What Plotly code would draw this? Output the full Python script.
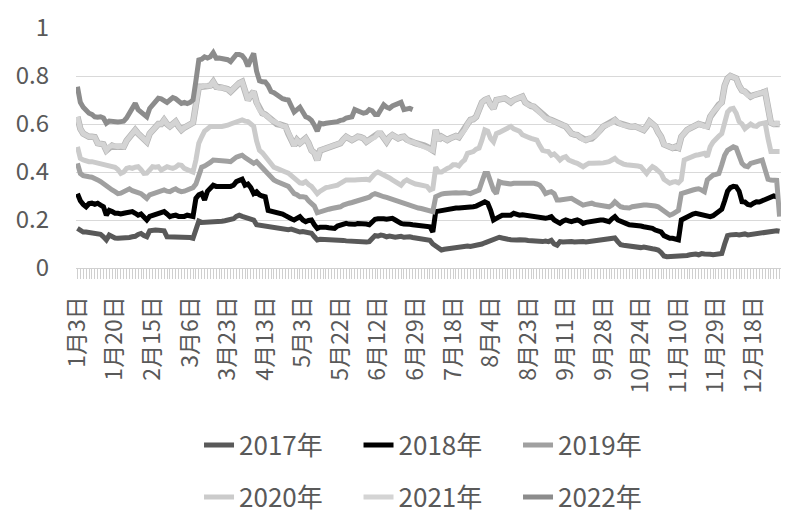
import pandas as pd
import plotly.graph_objects as go

# ---- categories: 2017 trading days (China), labelled "M月D日" ----
YEAR = 2017
HOLIDAYS = ["2017-01-02", "2017-01-27", "2017-01-30", "2017-01-31", "2017-02-01",
            "2017-02-02", "2017-04-03", "2017-04-04", "2017-05-01", "2017-05-29",
            "2017-05-30", "2017-10-02", "2017-10-03", "2017-10-04", "2017-10-05",
            "2017-10-06"]
_days = pd.bdate_range(f"{YEAR}-01-01", f"{YEAR}-12-31")
_days = _days[~_days.isin(pd.to_datetime(HOLIDAYS))]
CATEGORIES = [f"{d.month}月{d.day}日" for d in _days]
LABEL_STEP = 13
TICK_LABELS = [c if i % LABEL_STEP == 0 else "" for i, c in enumerate(CATEGORIES)]

# ---- series values ----
S2017 = [
    0.165, 0.155, 0.15, 0.15, 0.148, 0.15, 0.145, 0.143, 0.14, 0.13, 0.117, 0.137, 0.13,
    0.125, 0.124, 0.124, 0.125, 0.124, 0.127, 0.13, 0.132, 0.14, 0.144, 0.135, 0.13, 0.155,
    0.158, 0.158, 0.157, 0.158, 0.155, 0.13, 0.13, 0.132, 0.13, 0.132, 0.13, 0.128, 0.13,
    0.127, 0.124, 0.16, 0.195, 0.19, 0.19, 0.19, 0.19, 0.192, 0.193, 0.195, 0.195, 0.197,
    0.2, 0.2, 0.205, 0.215, 0.22, 0.215, 0.212, 0.21, 0.208, 0.2, 0.18, 0.178, 0.178,
    0.175, 0.172, 0.17, 0.168, 0.17, 0.165, 0.165, 0.162, 0.16, 0.162, 0.158, 0.155, 0.15,
    0.152, 0.15, 0.148, 0.145, 0.13, 0.117, 0.12, 0.12, 0.118, 0.12, 0.12, 0.118, 0.115,
    0.117, 0.115, 0.113, 0.112, 0.11, 0.108, 0.11, 0.108, 0.107, 0.108, 0.11, 0.125, 0.135,
    0.133, 0.137, 0.135, 0.13, 0.133, 0.13, 0.128, 0.13, 0.132, 0.128, 0.13, 0.13, 0.127,
    0.125, 0.122, 0.12, 0.12, 0.118, 0.115, 0.1, 0.09, 0.08, 0.075, 0.078, 0.08, 0.082,
    0.08, 0.085, 0.088, 0.09, 0.09, 0.092, 0.09, 0.092, 0.095, 0.095, 0.1, 0.105, 0.11,
    0.112, 0.115, 0.12, 0.128, 0.125, 0.12, 0.12, 0.118, 0.12, 0.117, 0.118, 0.115, 0.117,
    0.115, 0.113, 0.115, 0.113, 0.112, 0.11, 0.112, 0.11, 0.115, 0.1, 0.095, 0.11, 0.108,
    0.11, 0.107, 0.11, 0.108, 0.11, 0.112, 0.11, 0.108, 0.11, 0.112, 0.113, 0.115, 0.115,
    0.117, 0.118, 0.12, 0.122, 0.125, 0.11, 0.097, 0.095, 0.093, 0.092, 0.09, 0.09, 0.088,
    0.085, 0.087, 0.083, 0.082, 0.08, 0.078, 0.075, 0.065, 0.05, 0.047, 0.047, 0.048, 0.048,
    0.048, 0.05, 0.05, 0.052, 0.055, 0.058, 0.058, 0.055, 0.06, 0.058, 0.055, 0.057, 0.055,
    0.056, 0.058, 0.06, 0.1, 0.135, 0.138, 0.14, 0.14, 0.138, 0.14, 0.142, 0.138, 0.14,
    0.143, 0.145, 0.148, 0.147, 0.15, 0.152, 0.155, 0.157, 0.155, 0.153,
]
S2018 = [
    0.31, 0.28, 0.265, 0.255, 0.268, 0.27, 0.265, 0.27, 0.262, 0.255, 0.22, 0.24, 0.235,
    0.228, 0.228, 0.225, 0.228, 0.23, 0.233, 0.235, 0.228, 0.22, 0.225, 0.21, 0.2, 0.215,
    0.22, 0.22, 0.225, 0.23, 0.235, 0.225, 0.214, 0.218, 0.22, 0.215, 0.214, 0.215, 0.22,
    0.218, 0.215, 0.29, 0.305, 0.31, 0.283, 0.32, 0.335, 0.345, 0.34, 0.34, 0.34, 0.34,
    0.338, 0.34, 0.345, 0.36, 0.365, 0.37, 0.345, 0.35, 0.335, 0.31, 0.318, 0.305, 0.3,
    0.297, 0.24, 0.238, 0.235, 0.232, 0.228, 0.225, 0.218, 0.214, 0.205, 0.2, 0.205, 0.214,
    0.2, 0.193, 0.198, 0.2, 0.18, 0.165, 0.17, 0.172, 0.17, 0.168, 0.165, 0.165, 0.175,
    0.18, 0.182, 0.186, 0.183, 0.18, 0.182, 0.185, 0.186, 0.186, 0.183, 0.18, 0.19, 0.203,
    0.205, 0.207, 0.205, 0.203, 0.203, 0.207, 0.2, 0.19, 0.186, 0.183, 0.18, 0.182, 0.18,
    0.178, 0.176, 0.175, 0.173, 0.172, 0.172, 0.15, 0.235, 0.237, 0.24, 0.24, 0.245, 0.248,
    0.25, 0.25, 0.25, 0.25, 0.25, 0.252, 0.255, 0.255, 0.258, 0.262, 0.27, 0.276, 0.27,
    0.24, 0.2, 0.207, 0.215, 0.22, 0.22, 0.218, 0.22, 0.228, 0.222, 0.22, 0.222, 0.22,
    0.22, 0.215, 0.214, 0.214, 0.214, 0.21, 0.207, 0.21, 0.214, 0.2, 0.195, 0.186, 0.195,
    0.2, 0.196, 0.193, 0.197, 0.2, 0.195, 0.186, 0.19, 0.193, 0.195, 0.198, 0.2, 0.2,
    0.2, 0.198, 0.193, 0.205, 0.214, 0.2, 0.193, 0.186, 0.185, 0.18, 0.18, 0.178, 0.175,
    0.175, 0.172, 0.17, 0.166, 0.165, 0.158, 0.155, 0.15, 0.135, 0.128, 0.124, 0.124, 0.12,
    0.117, 0.2, 0.207, 0.212, 0.22, 0.225, 0.228, 0.226, 0.222, 0.22, 0.215, 0.214, 0.218,
    0.225, 0.235, 0.245, 0.28, 0.32, 0.335, 0.34, 0.338, 0.32, 0.276, 0.275, 0.265, 0.262,
    0.27, 0.276, 0.275, 0.28, 0.29, 0.295, 0.297, 0.3, 0.297, None,
]
S2019 = [
    0.436, 0.394, 0.385, 0.38, 0.38, 0.378, 0.375, 0.367, 0.36, 0.35, 0.34, 0.33, 0.325,
    0.318, 0.31, 0.312, 0.318, 0.325, 0.33, 0.322, 0.318, 0.315, 0.31, 0.3, 0.29, 0.305,
    0.31, 0.312, 0.318, 0.322, 0.325, 0.32, 0.318, 0.325, 0.33, 0.322, 0.318, 0.32, 0.325,
    0.33, 0.335, 0.35, 0.38, 0.42, 0.425, 0.43, 0.44, 0.45, 0.45, 0.448, 0.45, 0.45,
    0.445, 0.443, 0.455, 0.462, 0.466, 0.47, 0.46, 0.45, 0.44, 0.436, 0.443, 0.43, 0.415,
    0.4, 0.387, 0.38, 0.367, 0.36, 0.355, 0.35, 0.345, 0.34, 0.325, 0.31, 0.305, 0.297,
    0.297, 0.295, 0.28, 0.27, 0.258, 0.23, 0.235, 0.24, 0.245, 0.245, 0.248, 0.25, 0.252,
    0.255, 0.262, 0.268, 0.27, 0.273, 0.276, 0.28, 0.283, 0.285, 0.29, 0.295, 0.305, 0.31,
    0.306, 0.3, 0.297, 0.294, 0.29, 0.285, 0.28, 0.276, 0.27, 0.265, 0.262, 0.258, 0.255,
    0.253, 0.25, 0.248, 0.245, 0.24, 0.238, 0.235, 0.297, 0.304, 0.308, 0.31, 0.312, 0.313,
    0.314, 0.314, 0.313, 0.315, 0.314, 0.312, 0.31, 0.315, 0.318, 0.325, 0.36, 0.394, 0.394,
    0.36, 0.325, 0.31, 0.36, 0.355, 0.353, 0.353, 0.35, 0.353, 0.353, 0.355, 0.356, 0.355,
    0.353, 0.353, 0.353, 0.35, 0.345, 0.33, 0.31, 0.315, 0.318, 0.31, 0.283, 0.283, 0.285,
    0.288, 0.29, 0.29, 0.283, 0.276, 0.27, 0.262, 0.265, 0.268, 0.27, 0.265, 0.262, 0.26,
    0.258, 0.258, 0.255, 0.262, 0.276, 0.265, 0.255, 0.252, 0.25, 0.25, 0.255, 0.258, 0.26,
    0.262, 0.262, 0.262, 0.262, 0.26, 0.258, 0.255, 0.245, 0.24, 0.23, 0.22, 0.225, 0.235,
    0.24, 0.31, 0.315, 0.318, 0.32, 0.325, 0.328, 0.33, 0.325, 0.318, 0.367, 0.38, 0.387,
    0.39, 0.394, 0.43, 0.47, 0.49, 0.5, 0.505, 0.5, 0.47, 0.436, 0.425, 0.422, 0.436,
    0.44, 0.443, 0.445, 0.45, 0.41, 0.37, 0.367, 0.367, 0.365, 0.214,
]
S2020 = [
    0.505, 0.457, 0.45, 0.445, 0.443, 0.443, 0.44, 0.436, 0.435, 0.43, 0.425, 0.422, 0.42,
    0.42, 0.41, 0.394, 0.4, 0.415, 0.418, 0.415, 0.42, 0.422, 0.41, 0.394, 0.395, 0.41,
    0.422, 0.42, 0.422, 0.408, 0.415, 0.422, 0.418, 0.415, 0.42, 0.43, 0.428, 0.415, 0.41,
    0.405, 0.4, 0.45, 0.52, 0.547, 0.57, 0.58, 0.59, 0.59, 0.588, 0.59, 0.59, 0.59,
    0.595, 0.6, 0.605, 0.61, 0.615, 0.617, 0.612, 0.61, 0.6, 0.59, 0.53, 0.49, 0.48,
    0.465, 0.45, 0.435, 0.42, 0.415, 0.408, 0.405, 0.4, 0.395, 0.385, 0.373, 0.365, 0.355,
    0.353, 0.36, 0.348, 0.34, 0.325, 0.31, 0.32, 0.33, 0.335, 0.337, 0.338, 0.34, 0.345,
    0.353, 0.36, 0.367, 0.367, 0.365, 0.367, 0.368, 0.37, 0.373, 0.37, 0.367, 0.385, 0.394,
    0.4, 0.395, 0.385, 0.38, 0.375, 0.367, 0.36, 0.35, 0.345, 0.36, 0.367, 0.36, 0.353,
    0.35, 0.348, 0.345, 0.343, 0.34, 0.325, 0.33, 0.42, 0.4, 0.4, 0.41, 0.415, 0.42,
    0.43, 0.43, 0.425, 0.44, 0.45, 0.478, 0.48, 0.485, 0.495, 0.5, 0.533, 0.575, 0.57,
    0.54, 0.526, 0.56, 0.565, 0.572, 0.575, 0.585, 0.59, 0.58, 0.575, 0.57, 0.555, 0.547,
    0.545, 0.54, 0.537, 0.533, 0.51, 0.49, 0.487, 0.485, 0.47, 0.475, 0.464, 0.45, 0.46,
    0.464, 0.45, 0.443, 0.44, 0.436, 0.43, 0.422, 0.43, 0.436, 0.436, 0.435, 0.436, 0.437,
    0.438, 0.44, 0.443, 0.45, 0.457, 0.445, 0.436, 0.433, 0.43, 0.43, 0.43, 0.428, 0.425,
    0.422, 0.41, 0.394, 0.41, 0.422, 0.415, 0.405, 0.394, 0.37, 0.36, 0.353, 0.358, 0.36,
    0.355, 0.367, 0.45, 0.455, 0.464, 0.466, 0.47, 0.472, 0.475, 0.478, 0.464, 0.505, 0.525,
    0.54, 0.55, 0.56, 0.61, 0.65, 0.662, 0.665, 0.645, 0.61, 0.6, 0.58, 0.59, 0.6,
    0.592, 0.59, 0.6, 0.603, 0.605, 0.54, 0.485, 0.485, 0.487, 0.485,
]
S2021 = [
    0.63, 0.58, 0.56, 0.552, 0.547, 0.547, 0.545, 0.52, 0.52, 0.515, 0.49, 0.505, 0.51,
    0.505, 0.505, 0.508, 0.505, 0.53, 0.545, 0.555, 0.575, 0.56, 0.55, 0.535, 0.526, 0.56,
    0.575, 0.59, 0.6, 0.6, 0.617, 0.6, 0.59, 0.6, 0.61, 0.59, 0.575, 0.585, 0.59,
    0.6, 0.605, 0.68, 0.755, 0.755, 0.76, 0.758, 0.76, 0.776, 0.755, 0.75, 0.752, 0.748,
    0.745, 0.735, 0.75, 0.76, 0.77, 0.776, 0.74, 0.7, 0.72, 0.735, 0.69, 0.66, 0.645,
    0.64, 0.63, 0.617, 0.61, 0.6, 0.598, 0.592, 0.59, 0.56, 0.54, 0.51, 0.533, 0.52,
    0.53, 0.54, 0.52, 0.49, 0.48, 0.45, 0.49, 0.495, 0.5, 0.503, 0.507, 0.51, 0.515,
    0.52, 0.535, 0.547, 0.54, 0.533, 0.54, 0.547, 0.545, 0.54, 0.526, 0.535, 0.54, 0.545,
    0.56, 0.56, 0.54, 0.526, 0.545, 0.554, 0.547, 0.54, 0.545, 0.547, 0.535, 0.526, 0.525,
    0.52, 0.518, 0.515, 0.51, 0.505, 0.495, 0.49, 0.575, 0.533, 0.547, 0.54, 0.533, 0.54,
    0.547, 0.55, 0.545, 0.56, 0.575, 0.6, 0.617, 0.62, 0.63, 0.66, 0.69, 0.7, 0.705,
    0.68, 0.665, 0.7, 0.7, 0.705, 0.707, 0.695, 0.69, 0.7, 0.707, 0.71, 0.714, 0.69,
    0.68, 0.675, 0.672, 0.66, 0.648, 0.64, 0.624, 0.62, 0.617, 0.61, 0.605, 0.6, 0.595,
    0.59, 0.575, 0.56, 0.556, 0.554, 0.545, 0.535, 0.533, 0.538, 0.54, 0.55, 0.56, 0.575,
    0.59, 0.595, 0.6, 0.605, 0.617, 0.605, 0.6, 0.595, 0.59, 0.59, 0.588, 0.59, 0.585,
    0.58, 0.575, 0.59, 0.61, 0.6, 0.59, 0.565, 0.547, 0.515, 0.508, 0.505, 0.5, 0.505,
    0.5, 0.547, 0.565, 0.575, 0.582, 0.59, 0.595, 0.6, 0.597, 0.59, 0.59, 0.63, 0.65,
    0.665, 0.68, 0.69, 0.76, 0.79, 0.8, 0.795, 0.79, 0.76, 0.74, 0.735, 0.72, 0.714,
    0.72, 0.722, 0.728, 0.73, 0.735, 0.67, 0.605, 0.6, 0.603, 0.6,
]
S2022 = [
    0.755, 0.69, 0.67, 0.655, 0.645, 0.64, 0.63, 0.628, 0.63, 0.625, 0.603, 0.612, 0.61,
    0.61, 0.608, 0.61, 0.612, 0.625, 0.645, 0.665, 0.686, 0.66, 0.65, 0.64, 0.63, 0.665,
    0.68, 0.695, 0.707, 0.705, 0.695, 0.69, 0.7, 0.71, 0.705, 0.695, 0.686, 0.69, 0.685,
    0.69, 0.7, 0.78, 0.867, 0.87, 0.88, 0.875, 0.88, 0.897, 0.874, 0.875, 0.874, 0.872,
    0.868, 0.86, 0.875, 0.89, 0.89, 0.885, 0.87, 0.84, 0.87, 0.894, 0.82, 0.78, 0.776,
    0.775, 0.76, 0.735, 0.73, 0.72, 0.71, 0.705, 0.702, 0.7, 0.675, 0.65, 0.66, 0.67,
    0.65, 0.63, 0.625, 0.615, 0.595, 0.57, 0.603, 0.6, 0.603, 0.605, 0.602, 0.605, 0.61,
    0.615, 0.617, 0.625, 0.63, 0.63, 0.66, 0.655, 0.645, 0.645, 0.648, 0.66, 0.655, 0.64,
    0.64, 0.66, 0.68, 0.67, 0.665, 0.675, 0.68, 0.69, 0.69, 0.66, 0.662, 0.665, 0.66,
]

N = len(CATEGORIES)


def full(vals):
    vals = list(vals)
    return vals + [None] * (N - len(vals))


SERIES = [
    ("2017年", S2017, "#595959", "legend"),
    ("2018年", S2018, "#000000", "legend"),
    ("2019年", S2019, "#a0a0a0", "legend"),
    ("2020年", S2020, "#cbcbcb", "legend2"),
    ("2021年", S2021, "#d4d4d4", "legend2"),
    ("2022年", S2022, "#8c8c8c", "legend2"),
]

FONT = "Noto Sans CJK SC, Noto Sans, sans-serif"
TXT = "#595959"

# page has an 8px body margin: figure is 788x510 so it ends at the window edge
W, H = 788, 510

fig = go.Figure()
for name, vals, color, lg in SERIES:
    y = full(vals)
    if name == "2021年":
        fig.add_trace(go.Scatter(x=CATEGORIES, y=y, mode="lines", showlegend=False,
                                 hoverinfo="skip", legend=lg,
                                 line=dict(color="#b4b4b4", width=6.4)))
    fig.add_trace(go.Scatter(x=CATEGORIES, y=y, mode="lines", name=name, legend=lg,
                             line=dict(color=color, width=5)))

fig.update_layout(
    width=W, height=H,
    margin=dict(l=68, r=15, t=20, b=250, autoexpand=False),
    plot_bgcolor="white", paper_bgcolor="white",
    font=dict(family=FONT, color=TXT),
    legend=dict(orientation="h", x=0.1745, y=1 - 437 / H, xref="paper", yref="container",
                xanchor="left", yanchor="middle",
                font=dict(size=26, color=TXT), entrywidth=114.5,
                bgcolor="rgba(0,0,0,0)"),
    legend2=dict(orientation="h", x=0.1745, y=1 - 489 / H, xref="paper", yref="container",
                 xanchor="left", yanchor="middle",
                 font=dict(size=26, color=TXT), entrywidth=114.5,
                 bgcolor="rgba(0,0,0,0)"),
)
fig.update_xaxes(
    type="category", tickmode="array", tickvals=CATEGORIES, ticktext=TICK_LABELS,
    tickangle=-90, ticks="outside", ticklen=10, tickwidth=1, tickcolor="#cfcfcf",
    showline=True, linecolor="#d0d0d0", linewidth=1.3, showgrid=False,
    tickfont=dict(size=23, color=TXT), ticklabelstandoff=8, automargin=False,
    range=[-0.5, N - 0.5],
)
fig.update_yaxes(
    range=[0, 1.0], dtick=0.2, tick0=0, showgrid=True, gridcolor="#d9d9d9", gridwidth=1.3,
    zeroline=False, showline=False, tickfont=dict(size=24, color=TXT),
    ticklabelstandoff=26, automargin=False,
)

fig.write_html("out.html")
